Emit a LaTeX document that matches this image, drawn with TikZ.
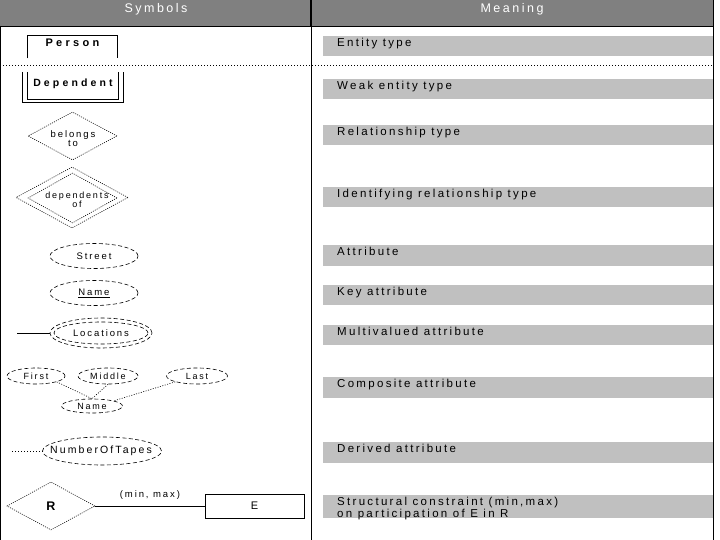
\documentclass[tikz,border=0pt]{standalone}
\usepackage{fontspec}
\usepackage{tikz}
\usetikzlibrary{shapes.geometric}
\newfontfamily\erfont[LetterSpace=20]{Liberation Sans}
\newfontfamily\erbold[LetterSpace=30]{Liberation Sans Bold}
\definecolor{headgray}{HTML}{808080}
\definecolor{rowgray}{HTML}{C0C0C0}

\begin{document}
\begin{tikzpicture}[x=1pt,y=-1pt,
	symtext/.style={font=\erfont\fontsize{9.5}{9.5}\selectfont, inner sep=0pt, align=center},
	attr/.style={ellipse, draw, line width=0.6pt, dash pattern=on 4pt off 2.5pt, inner sep=0pt, font=\erfont\fontsize{9.5}{10}\selectfont},
	rel/.style={diamond, draw, line width=0.6pt, dash pattern=on 1pt off 1.2pt, inner sep=0pt},
	entbox/.style={rectangle, inner sep=0pt, font=\erbold\fontsize{10.5}{12}\selectfont},
	headtext/.style={font=\erfont\fontsize{12.5}{14}\selectfont, text=white, inner sep=0pt},
	meaning/.style={anchor=north west, inner sep=0pt, align=left, font=\erfont\fontsize{11.5}{10}\selectfont},
	rule/.style={line width=0.8pt},
	]
	\useasboundingbox (0,0) rectangle (720,540);
	\fill[headgray] (0,0) rectangle (713,26);
	\node[headtext] (symhead) at (156,9) {Symbols};
	\node[headtext] (meanhead) at (512,9) {Meaning};
	\foreach \ytop/\ybot/\txt [count=\i] in {36/56/Entity type, 79/99/Weak entity type,
		125/145/Relationship type, 187/207/Identifying relationship type,
		245/266/Attribute, 285/305/Key attribute, 325/345/Multivalued attribute,
		377/398/Composite attribute, 442/463/Derived attribute,
		495/518/{Structural constraint (min,max)\\on participation of E in R}}
	{
		\fill[rowgray] (323,\ytop) rectangle (713,\ybot);
		\node[meaning] (m\i) at (337,\ytop+2) {\txt};
	}
	\draw[rule] (0,26) -- (713,26);
	\draw[line width=2pt] (311,0) -- (311,26);
	\draw[rule] (311,26) -- (311,540);
	\draw[line width=1.6pt] (0,26) -- (0,540);
	\draw[rule] (713,0) -- (713,540);
	\draw[line width=0.8pt, dash pattern=on 1pt off 2pt] (0,65) -- (713,65);

	\node[entbox, anchor=north, minimum width=89pt, text height=11pt, text depth=12pt, font=\erbold\fontsize{11}{12}\selectfont] (person) at (72.5,35) {Person};
	\draw[rule] (person.south west) -- (person.north west) -- (person.north east) -- (person.south east);
	\node[entbox, anchor=north, minimum width=100pt, text height=14pt, text depth=16pt] (dep) at (73,72) {Dependent};
	\draw[rule] (dep.north west) -- (dep.south west) -- (dep.south east) -- (dep.north east);
	\draw[rule] ([xshift=5pt]dep.north west) -- ([xshift=5pt,yshift=3pt]dep.south west)
		-- ([xshift=-5pt,yshift=3pt]dep.south east) -- ([xshift=-5pt]dep.north east);

	\node[rel, minimum width=89pt, minimum height=48pt] (belongs) at (72.5,136) {};
	\node[symtext] (belongstxt) at (73,138.5) {belongs\\to};
	\node[rel, minimum width=112pt, minimum height=61pt] (depofout) at (72,197.5) {};
	\node[rel, minimum width=89pt, minimum height=50pt] (depofin) at (72.5,198) {};
	\node[symtext, font=\erfont\fontsize{9}{8.5}\selectfont] (depoftxt) at (77,200) {dependents\\of};

	\node[attr, minimum width=88pt, minimum height=25pt] (street) at (94,256) {Street};
	\node[attr, minimum width=88pt, minimum height=25pt] (keyname) at (94,293) {\underline{Name}};
	\node[attr, minimum width=102pt, minimum height=30pt] (locout) at (101,333) {};
	\node[attr, minimum width=94pt, minimum height=22pt] (locin) at (101,333) {Locations};
	\coordinate (locend) at (17,333);
	\draw[rule] (locend) -- (locout);

	\node[attr, minimum width=58pt, minimum height=16pt, font=\erfont\fontsize{9}{9}\selectfont] (first) at (36,376) {First};
	\node[attr, minimum width=60pt, minimum height=16pt, font=\erfont\fontsize{9}{9}\selectfont] (middle) at (108,376) {Middle};
	\node[attr, minimum width=61pt, minimum height=16pt, font=\erfont\fontsize{9}{9}\selectfont] (last) at (197,376) {Last};
	\node[attr, minimum width=61pt, minimum height=14pt, font=\erfont\fontsize{9}{9}\selectfont] (compname) at (92,406) {Name};
	\draw[line width=0.6pt, dash pattern=on 1pt off 1.5pt] (first.south east) -- (compname.north);
	\draw[line width=0.6pt, dash pattern=on 1pt off 1.5pt] (middle.south) -- (compname.north);
	\draw[line width=0.6pt, dash pattern=on 1pt off 1.5pt] (last.south west) -- (compname.north east);

	\node[attr, minimum width=119pt, minimum height=28pt] (tapes) at (102,451) {};
	\node[symtext, font=\erfont\fontsize{10.5}{11}\selectfont] (tapestxt) at (101,451) {NumberOfTapes};
	\coordinate (tapesend) at (12,451);
	\draw[line width=0.6pt, dash pattern=on 1pt off 2pt] (tapesend) -- (tapes);

	\node[rel, minimum width=88pt, minimum height=48pt, font=\erbold\fontsize{12.5}{14}\selectfont] (r) at (51,506) {R};
	\node[draw, rule, minimum width=99pt, minimum height=24pt, inner sep=0pt, font=\erfont\fontsize{11}{12}\selectfont] (e) at (254.5,506) {E};
	\draw[rule] (r) -- (e) node[midway, above=6pt, symtext] (minmax) {(min, max)};
\end{tikzpicture}
\end{document}
